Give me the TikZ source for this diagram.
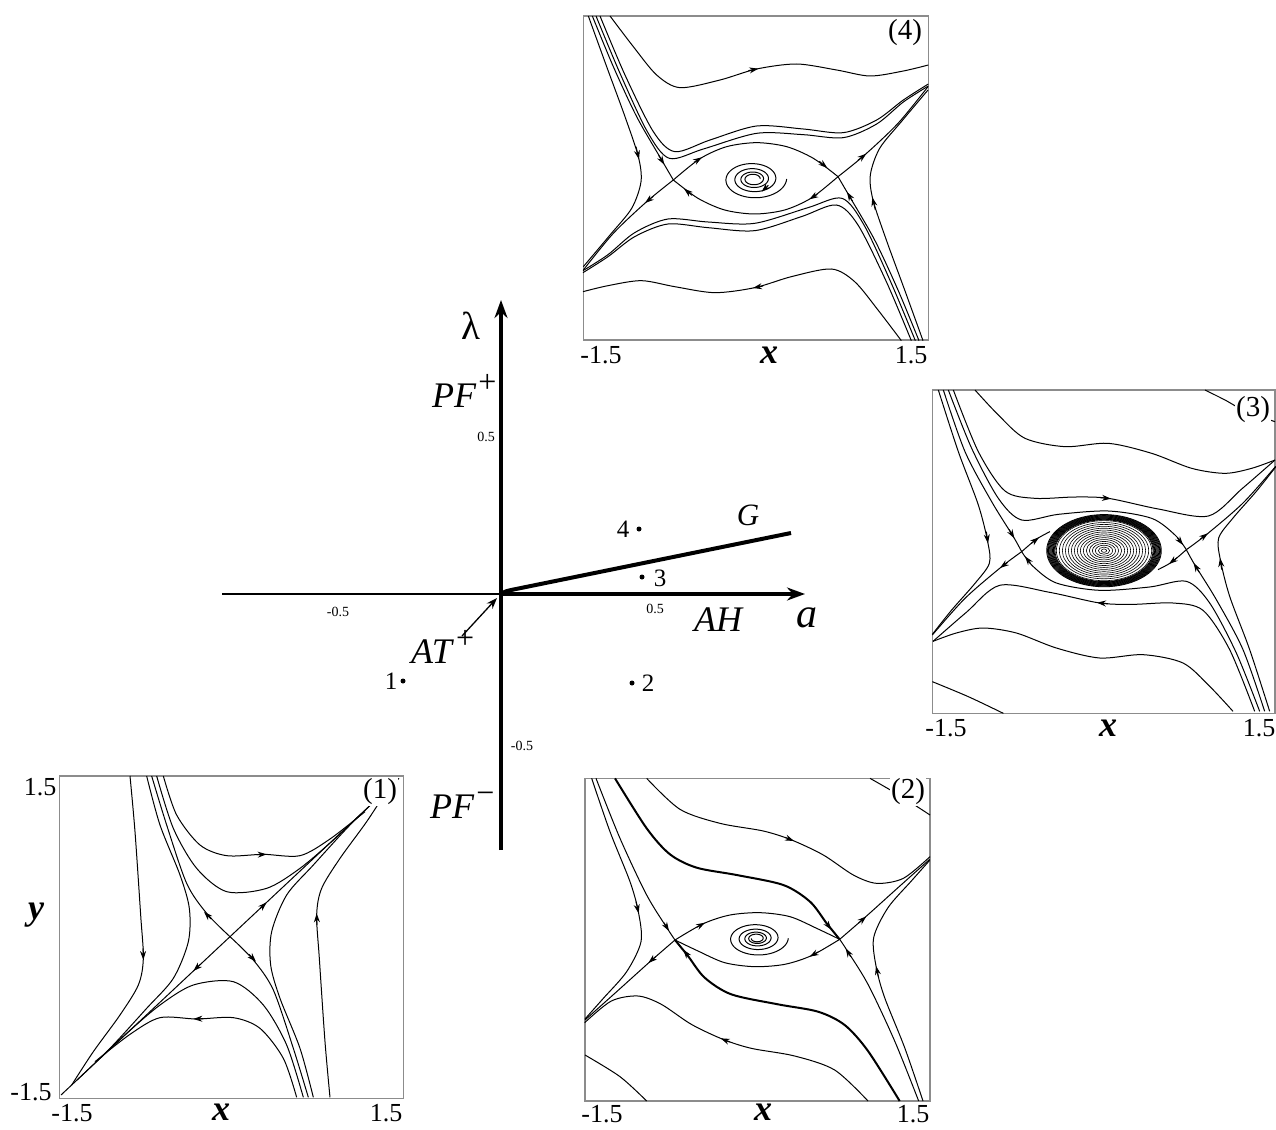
\documentclass[tikz,border=0pt]{standalone}
\usepackage{fontspec}
\setmainfont{Liberation Serif}
\usetikzlibrary{arrows.meta}
\tikzset{
  traj/.style={line width=1pt},
  sepa/.style={line width=2pt},
  panelbox/.style={line width=1.2pt, draw=black!45},
  tipar/.style={line width=1pt,-{Stealth[length=9pt,width=6pt]}},
  ticklab/.style={font=\fontsize{26}{28}\selectfont, inner sep=0pt},
  axlab/.style={font=\fontsize{36}{38}\selectfont\bfseries\itshape, inner sep=0pt},
  plab/.style={font=\fontsize{29}{31}\selectfont, inner sep=1pt, fill=white},
  biglab/.style={font=\fontsize{36}{38}\selectfont, inner sep=0pt, anchor=base west},
  smalllab/.style={font=\fontsize{14}{16}\selectfont, inner sep=0pt},
  numlab/.style={font=\fontsize{25}{27}\selectfont, inner sep=0pt},
  ptdot/.style={circle, fill=black, inner sep=0pt, minimum size=5pt},
  thickax/.style={line width=4pt},
  thinax/.style={line width=1.3pt},
}
\newcommand\mysup[1]{\hspace{2pt}\raisebox{15pt}{\fontsize{32}{32}\selectfont #1}}
% ---------- half of each phase portrait (other half by 180 deg rotation)
\newcommand\myhalfone{%
  \draw[traj] (690,515) -- (1197,40);
  \draw[tipar] (780,431) -- (800,412);
  \draw[traj] plot[smooth] coordinates {(690,515) (620,445) (560,355) (500,180) (455,33)};
  \draw[tipar] (633,462) -- (612,440);
  \draw[traj] plot[smooth] coordinates {(390,33) (405,200) (422,450) (430,580) (415,660) (360,750) (280,860) (215,960)};
  \draw[tipar] (429,550) -- (430,585);
  \draw[traj] plot[smooth] coordinates {(440,33) (480,180) (540,330) (568,430) (565,530) (520,640) (440,730) (330,850) (230,946)};
  \draw[traj] plot[smooth] coordinates {(470,33) (520,190) (590,310) (680,380) (800,370) (900,310) (1000,225) (1080,150)};
  \draw[traj] plot[smooth] coordinates {(490,33) (530,150) (600,240) (680,272) (790,268) (900,272) (990,222) (1095,140)};
  \draw[tipar] (770,269) -- (800,268);
}
\newcommand\myhalftwo{%
  \draw[traj] plot[smooth] coordinates {(230,40) (330,133) (450,175) (580,198) (665,225) (760,270) (850,330) (920,355) (1000,340) (1080,275)};
  \draw[tipar] (645,217) -- (672,228);
  \draw[traj] plot[smooth] coordinates {(65,40) (120,200) (180,350) (205,440) (213,530) (170,620) (100,700) (45,762)};
  \draw[tipar] (198,410) -- (206,445);
  \draw[traj] plot[smooth] coordinates {(78,40) (150,220) (230,390) (295,495) (315,525)};
  \draw[tipar] (282,473) -- (297,498);
  \draw[sepa] plot[smooth] coordinates {(135,40) (230,190) (300,268) (380,308) (500,330) (640,360) (720,410) (770,475) (809,523)};
  \draw[tipar] (766,470) -- (784,494);
  \draw[traj] plot[smooth] coordinates {(315,525) (400,476) (480,450) (570,443) (660,455) (740,490) (809,523)};
  \draw[tipar] (380,487) -- (405,473);
  \draw[traj] plot[smooth] coordinates {(315,525) (240,590) (140,680) (45,765)};
  \draw[tipar] (258,574) -- (235,594);
}
\newcommand\myhalfthree{%
  \draw[traj] plot[smooth] coordinates {(150,15) (220,90) (300,160) (420,185) (550,175) (680,205) (800,250) (900,265) (980,250) (1050,225)};
  \draw[traj] plot[smooth] coordinates {(40,15) (100,200) (160,360) (188,470) (193,535) (150,595) (80,675) (22,748)};
  \draw[tipar] (184,440) -- (189,475);
  \draw[traj] plot[smooth] coordinates {(55,15) (120,200) (200,350) (265,455) (290,500)};
  \draw[tipar] (252,433) -- (268,460);
  \draw[traj] plot[smooth] coordinates {(70,15) (140,190) (220,340) (290,405) (400,388) (550,378) (680,400) (750,450) (784,494)};
  \draw[tipar] (757,458) -- (774,480);
  \draw[traj] plot[smooth] coordinates {(85,15) (160,200) (240,318) (330,340) (450,336) (550,340) (700,372) (850,393) (950,312) (1050,225)};
  \draw[tipar] (525,338) -- (558,341);
  \draw[traj] plot[smooth] coordinates {(290,500) (335,462) (375,440)};
  \draw[tipar] (318,476) -- (342,457);
  \draw[traj] plot[smooth] coordinates {(290,500) (230,545) (120,640) (22,750)};
  \draw[tipar] (248,532) -- (225,549);
}
\newcommand\myhalffour{%
  \draw[traj] plot[smooth] coordinates {(120,48) (190,140) (260,225) (330,263) (450,240) (560,207) (680,192) (800,210) (900,228) (1000,213) (1075,195)};
  \draw[tipar] (535,212) -- (565,206);
  \draw[traj] plot[smooth] coordinates {(55,48) (110,200) (165,350) (205,470) (213,545) (185,625) (120,705) (40,800)};
  \draw[tipar] (198,440) -- (207,478);
  \draw[traj] plot[smooth] coordinates {(67,48) (130,200) (200,350) (275,480) (310,540)};
  \draw[tipar] (266,466) -- (283,494);
  \draw[traj] plot[smooth] coordinates {(78,48) (150,220) (232,395) (298,475) (400,447) (560,400) (700,404) (820,413) (920,372) (1000,306) (1075,258)};
  \draw[traj] plot[smooth] coordinates {(90,48) (165,225) (250,395) (315,455) (420,420) (560,378) (700,387) (820,398) (920,360) (1000,300) (1075,252)};
  \draw[traj] plot[smooth] coordinates {(310,540) (390,476) (470,440) (560,428) (650,440) (730,475) (804,530)};
  \draw[tipar] (372,487) -- (396,472);
  \draw[tipar] (748,484) -- (772,504);
  \draw[traj] plot[smooth] coordinates {(310,540) (230,605) (130,700) (40,810)};
  \draw[tipar] (250,589) -- (225,609);
}
\begin{document}
\begin{tikzpicture}[x=1pt,y=-1pt]
\useasboundingbox (0,0) rectangle (1276,1129);

% ================= central bifurcation diagram
\coordinate (O) at (501,594);
\coordinate (ytop) at (501,300);
\coordinate (ybot) at (501,850);
\coordinate (xleft) at (222,594);
\coordinate (xright) at (805,594);
\coordinate (Gbend) at (516,589);
\coordinate (Gend) at (791,533);
\coordinate (ATs) at (462,636);
\coordinate (ATe) at (497,598);

\draw[thinax] (xleft) -- (O);
\draw[thickax,-{Stealth[length=18pt,width=13pt]}] (ybot) -- (ytop);
\draw[thickax,-{Stealth[length=18pt,width=13pt]}] (O) -- (xright);
\draw[thickax] (O) .. controls (506,591) .. (Gbend) -- (Gend);
\draw[thinax,-{Stealth[length=11pt,width=8pt]}] (ATs) -- (ATe);

\node[font=\fontsize{39}{41}\selectfont, inner sep=0pt] (lam) at (471,326) {λ};
\node[biglab] (pfp) at (432,407) {\textit{PF}\mysup{+}};
\node[biglab] (pfm) at (430,818) {\textit{PF}\mysup{−}};
\node[biglab] (atp) at (411,663) {\textit{AT}\mysup{+}};
\node[font=\fontsize{36}{38}\selectfont\itshape, inner sep=0pt] (ah) at (718,620) {AH};
\node[font=\fontsize{42}{44}\selectfont\itshape, inner sep=0pt] (alab) at (807,618) {a};
\node[font=\fontsize{31}{33}\selectfont\itshape, inner sep=0pt] (glab) at (748,515) {G};
\node[smalllab] (yhalf) at (486,437) {0.5};
\node[smalllab] (ymhalf) at (522,746) {-0.5};
\node[smalllab] (xmhalf) at (338,612) {-0.5};
\node[smalllab] (xhalf) at (655,609) {0.5};

\node[ptdot] (p4) at (639,529) {};
\node[numlab] (n4) at (623,529) {4};
\node[ptdot] (p3) at (642,577) {};
\node[numlab] (n3) at (660,578) {3};
\node[ptdot] (p2) at (632,683) {};
\node[numlab] (n2) at (648,683) {2};
\node[ptdot] (p1) at (403,681) {};
\node[numlab] (n1) at (391,681) {1};

% ================= panel (4)
\begin{scope}[shift={(570,0)}, x=0.33333pt, y=-0.33333pt]
  \draw[panelbox] (40,48) rectangle (1075,1020);
  \myhalffour
  \begin{scope}[shift={(557,535)}, xscale=-1, yscale=-1, shift={(-557,-535)}]
    \myhalffour
  \end{scope}
  \draw[traj] plot[domain=0:1440, samples=240, variable=\t]
     ({550+100*exp(-0.0011*\t)*cos(\t)}, {537+62*exp(-0.0011*\t)*sin(\t)});
  \draw[tipar] (595,556) -- (575,575);
\end{scope}

% ================= panel (3)
\begin{scope}[shift={(925,385)}, x=0.33333pt, y=-0.33333pt]
  \draw[panelbox] (22,15) rectangle (1050,985);
  \myhalfthree
  \begin{scope}[shift={(537,497)}, xscale=-1, yscale=-1, shift={(-537,-497)}]
    \myhalfthree
  \end{scope}
  \draw[traj] plot[smooth] coordinates {(840,15) (900,45) (960,78) (1050,110)};
  \draw[traj] plot[smooth] coordinates {(22,890) (130,935) (235,985)};
  \foreach \r in {8,17,...,143} {\draw[line width=0.6pt] (537,497) ellipse [x radius=\r, y radius={0.63*\r}];}
  \foreach \r in {147,149.5,...,172} {\draw[line width=0.8pt] (537,497) ellipse [x radius=\r, y radius={0.63*\r}];}
\end{scope}

% ================= panel (2)
\begin{scope}[shift={(570,765)}, x=0.33333pt, y=-0.33333pt]
  \draw[panelbox] (45,40) rectangle (1080,1008);
  \myhalftwo
  \begin{scope}[shift={(562,524)}, xscale=-1, yscale=-1, shift={(-562,-524)}]
    \myhalftwo
  \end{scope}
  \draw[traj] plot[smooth] coordinates {(900,40) (990,92) (1080,150)};
  \draw[traj] plot[smooth] coordinates {(45,870) (150,935) (230,1008)};
  \draw[traj] plot[domain=0:1620, samples=260, variable=\t]
     ({560+95*exp(-0.0011*\t)*cos(\t)}, {520+55*exp(-0.0011*\t)*sin(\t)});
\end{scope}

% ================= panel (1)
\begin{scope}[shift={(0,765)}, x=0.33333pt, y=-0.33333pt]
  \draw[panelbox] (178,33) rectangle (1210,1000);
  \myhalfone
  \begin{scope}[shift={(690,515)}, xscale=-1, yscale=-1, shift={(-690,-515)}]
    \myhalfone
  \end{scope}
\end{scope}

% ================= panel labels
\node[plab] (l4) at (905,33) {(4)};
\node[plab] (l3) at (1253,410) {(3)};
\node[plab] (l2) at (908,792) {(2)};
\node[plab] (l1) at (380,792) {(1)};

\node[ticklab] (t4a) at (601,355) {-1.5};
\node[axlab]   (t4x) at (769,355) {x};
\node[ticklab] (t4b) at (911,355) {1.5};

\node[ticklab] (t3a) at (946,728) {-1.5};
\node[axlab]   (t3x) at (1108,728) {x};
\node[ticklab] (t3b) at (1259,728) {1.5};

\node[ticklab] (t2a) at (602,1114) {-1.5};
\node[axlab]   (t2x) at (763,1112) {x};
\node[ticklab] (t2b) at (913,1114) {1.5};

\node[ticklab] (t1a) at (72,1113) {-1.5};
\node[axlab]   (t1x) at (221,1112) {x};
\node[ticklab] (t1b) at (386,1113) {1.5};
\node[ticklab] (t1c) at (40,787) {1.5};
\node[ticklab] (t1d) at (31,1092) {-1.5};
\node[axlab]   (t1y) at (36,915) {y};
\end{tikzpicture}
\end{document}
